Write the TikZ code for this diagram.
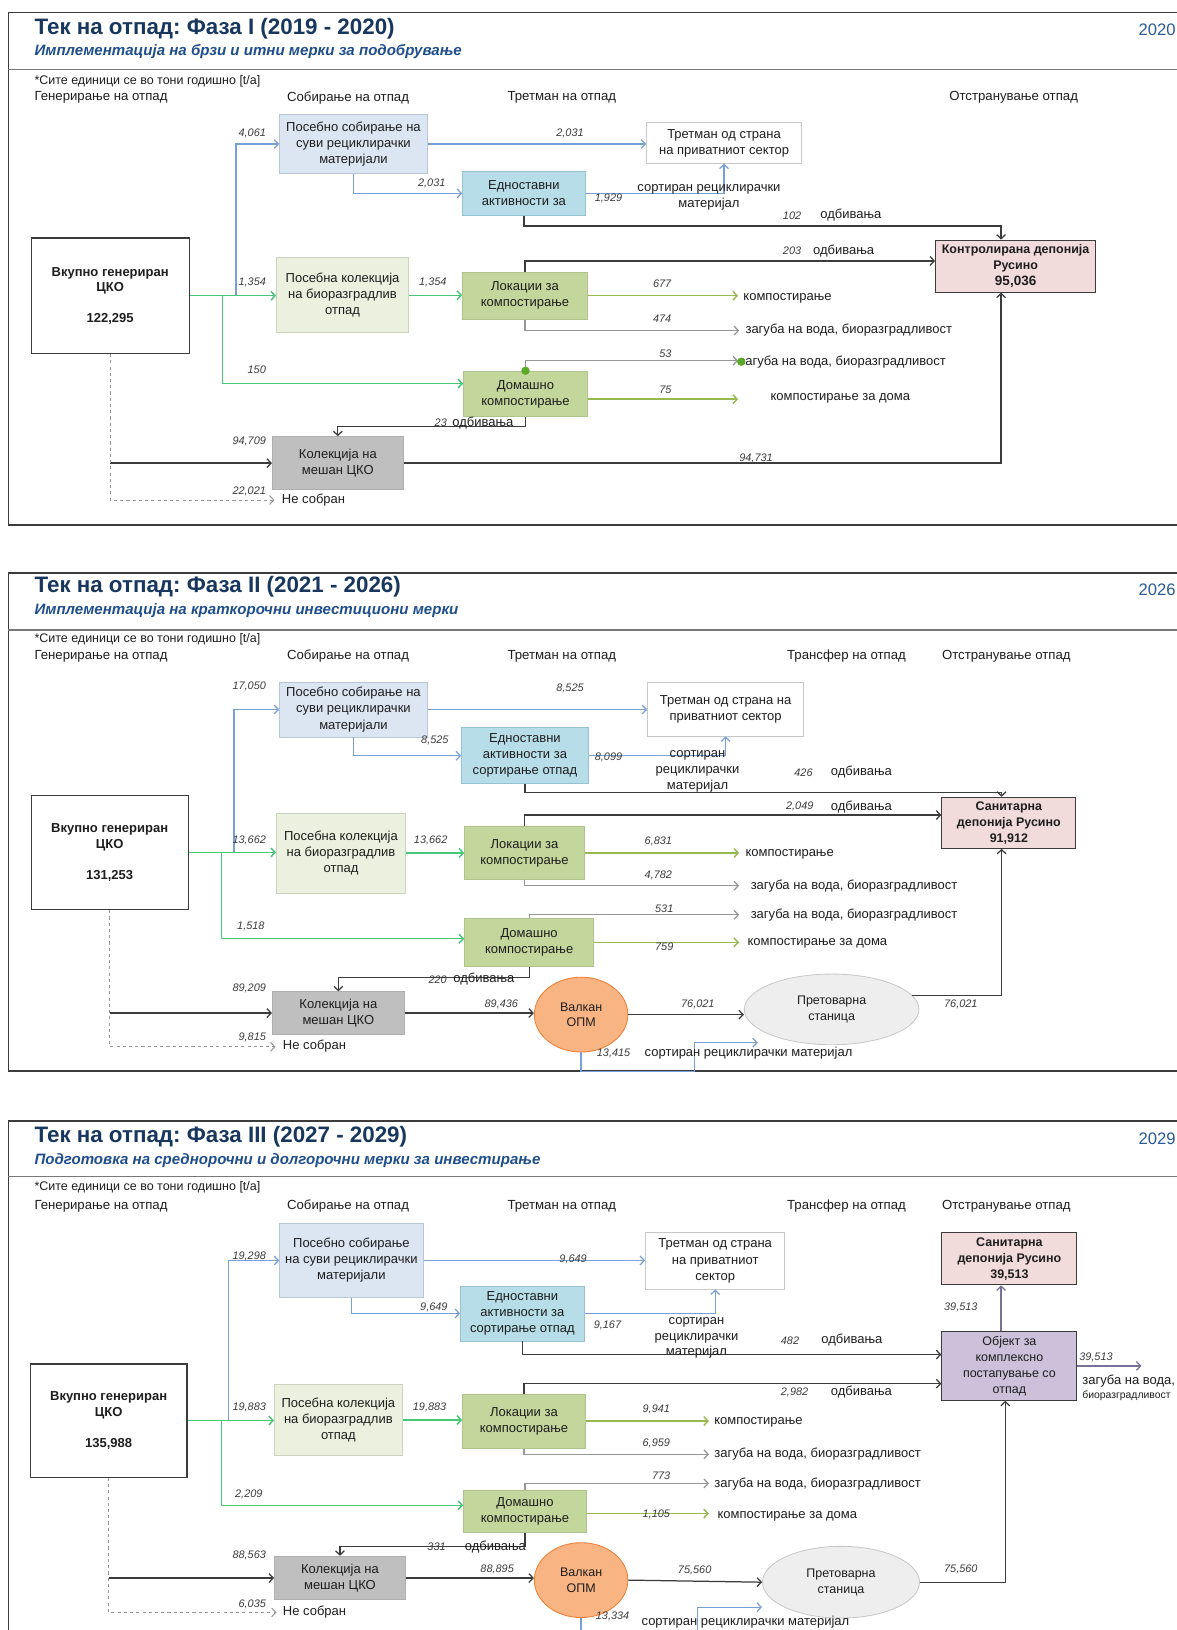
\documentclass[tikz,border=0pt]{standalone}
\usepackage{fontspec}
\setmainfont{Liberation Sans}
\usetikzlibrary{arrows.meta,shapes.geometric}
\newcommand\fsz[2]{\fontsize{#1}{#2}\selectfont}
\newcommand\bx[7]{\node[#2, minimum width={(#5)-(#3)}, minimum height={(#6)-(#4)}] (#1) at ({((#3)+(#5))/2},{((#4)+(#6))/2}) {#7};}
\definecolor{cttl}{RGB}{23,55,94}
\definecolor{csub}{RGB}{31,78,140}
\definecolor{cyr}{RGB}{40,90,150}
\definecolor{ctext}{RGB}{30,30,30}
\definecolor{cnum}{RGB}{60,60,60}
\definecolor{cblue}{RGB}{120,160,215}
\definecolor{cgreen}{RGB}{70,200,120}
\definecolor{colive}{RGB}{150,185,80}
\definecolor{cgrey}{RGB}{150,150,150}
\definecolor{cdark}{RGB}{60,60,60}
\definecolor{cprp}{RGB}{120,115,150}
\definecolor{csep}{RGB}{120,120,120}
\definecolor{fsd}{RGB}{220,230,242}\definecolor{dsd}{RGB}{185,198,215}
\definecolor{fss}{RGB}{183,222,232}\definecolor{dss}{RGB}{150,195,210}
\definecolor{fbc}{RGB}{235,241,222}\definecolor{dbc}{RGB}{205,212,190}
\definecolor{fcs}{RGB}{195,214,155}\definecolor{dcs}{RGB}{175,195,140}
\definecolor{fmx}{RGB}{191,191,191}\definecolor{dmx}{RGB}{175,175,175}
\definecolor{flf}{RGB}{242,220,219}
\definecolor{fob}{RGB}{204,192,218}
\definecolor{fva}{RGB}{248,180,130}\definecolor{dva}{RGB}{237,125,49}
\definecolor{fts}{RGB}{238,238,238}\definecolor{dts}{RGB}{200,200,200}
\definecolor{dpr}{RGB}{200,200,200}
\definecolor{cdot}{RGB}{90,170,40}
\tikzset{
  ar/.style={-{Straight Barb[length=4pt,width=8.5pt]}},
  blu/.style={ar, draw=cblue, line width=1.2pt},
  grn/.style={ar, draw=cgreen, line width=1.4pt},
  olv/.style={ar, draw=colive, line width=1.4pt},
  gry/.style={ar, draw=cgrey, line width=1.2pt},
  drk/.style={ar, draw=cdark, line width=1.2pt},
  prp/.style={ar, draw=cprp, line width=1.2pt},
  dsh/.style={ar, draw=cgrey, dashed, line width=1pt},
  frm/.style={draw=cdark, line width=1.8pt},
  lft/.style={draw=cdark, line width=1pt},
  sepl/.style={draw=csep, line width=1.2pt},
  ttl/.style={anchor=west, inner sep=0pt, font=\fsz{21.5}{25}\bfseries, text=cttl},
  sub/.style={anchor=west, inner sep=0pt, font=\fsz{14.5}{17}\bfseries\itshape, text=csub},
  yr/.style={anchor=east, inner sep=0pt, font=\fsz{16}{18}, text=cyr},
  note/.style={anchor=west, inner sep=0pt, font=\fsz{12}{14}, text=ctext},
  hdr/.style={anchor=west, inner sep=0pt, font=\fsz{12.7}{15}, text=ctext},
  lbl/.style={anchor=west, inner sep=0pt, font=\fsz{12.5}{15}, text=ctext},
  lblc/.style={align=center, inner sep=0pt, font=\fsz{12.5}{15}, text=ctext},
  small/.style={anchor=west, inner sep=0pt, font=\fsz{10}{12}, text=ctext},
  num/.style={anchor=west, inner sep=0pt, font=\fsz{10.5}{12}\itshape, text=cnum},
  numr/.style={num, anchor=east},
  bxs/.style={rectangle, align=center, inner sep=0pt, font=\fsz{12.5}{15.5}, text=ctext, line width=0.8pt},
  totb/.style={bxs, draw=cdark, fill=white, line width=1.2pt, font=\fsz{12.5}{15}\bfseries},
  sdb/.style={bxs, draw=dsd, fill=fsd},
  ssb/.style={bxs, draw=dss, fill=fss},
  prb/.style={bxs, draw=dpr, fill=white},
  bcb/.style={bxs, draw=dbc, fill=fbc},
  csb/.style={bxs, draw=dcs, fill=fcs},
  mxb/.style={bxs, draw=dmx, fill=fmx},
  lfb/.style={bxs, draw=cdark, fill=flf, line width=1pt, font=\fsz{12}{15.5}\bfseries},
  obb/.style={bxs, draw=cdark, fill=fob, line width=1pt, font=\fsz{12}{15.5}},
  vab/.style={ellipse, draw=dva, fill=fva, minimum width=90, minimum height=72, inner sep=0pt, align=center, font=\fsz{12}{15}, text=ctext, line width=0.8pt},
  tsb/.style={ellipse, draw=dts, fill=fts, minimum width=168, minimum height=68, inner sep=0pt, align=center, font=\fsz{12}{15}, text=ctext, line width=0.8pt},
  gdot/.style={circle, fill=cdot, inner sep=0pt, minimum size=8pt}
}
\begin{document}
\frenchspacing
\begin{tikzpicture}[x=1pt,y=-1pt]
\path[use as bounding box] (0,0) rectangle (1132,1568);
\clip (0,0) rectangle (1132,1568);
\fill[white] (0,0) rectangle (1132,1568);

%================ PANEL 1 ================
\draw[frm] (1132,12) -- (8,12);
\draw[frm] (8,505) -- (1132,505);
\draw[lft] (8,12) -- (8,505);
\draw[sepl] (8,67) -- (1132,67);
\node[ttl] (p1t) at (33,28) {Тек на отпад: Фаза I (2019 - 2020)};
\node[sub] (p1s) at (33,50) {Имплементација на брзи и итни мерки за подобрување};
\node[yr] (p1y) at (1131,29) {2020};
\node[note] (p1n) at (33,78) {*Сите единици се во тони годишно [t/a]};
\node[hdr] (p1h1) at (33,94) {Генерирање на отпад};
\node[hdr] (p1h2) at (276,94) {Собирање на отпад};
\node[hdr] (p1h3) at (488,94) {Третман на отпад};
\node[hdr] (p1h5) at (913,94) {Отстранување отпад};

\bx{tot1}{totb}{30}{229}{182}{340}{Вкупно генериран\\ЦКО\\[14.5pt]122,295}
\bx{sd1}{sdb}{269}{110}{411}{167}{Посебно собирање на\\суви рециклирачки\\материјали}
\bx{ss1}{ssb}{445}{165}{563}{207}{Едноставни\\активности за}
\bx{pr1}{prb}{622}{118}{771}{157}{Третман од страна\\на приватниот сектор}
\bx{bc1}{bcb}{266}{248}{393}{320}{Посебна колекција\\на биоразградлив\\отпад}
\bx{cs1}{csb}{445}{262}{565}{307}{Локации за\\компостирање}
\bx{hc1}{csb}{446}{357}{565}{401}{Домашно\\компостирање}
\bx{mx1}{mxb}{262}{420}{388}{471}{Колекција на\\мешан ЦКО}
\bx{lf1}{lfb}{900}{231}{1054}{281}{Контролирана депонија\\Русино\\{\fsz{13}{15}95,036}}

\coordinate (j1b) at (227,285);
\coordinate (j1g) at (214,285);
\draw[blu] (j1b) |- (sd1.west);
\draw[grn] (tot1.east) -- (tot1.east -| bc1.west);
\draw[grn] (j1g) |- ([yshift=10pt]hc1.west);
\draw[blu] (sd1.east) -- (sd1.east -| pr1.west);
\draw[blu] (sd1.south) |- (ss1.west);
\draw[blu] (ss1.east) -| (pr1.south);
\draw[drk] (ss1.south) -- ++(0,10) -| ([xshift=-14pt]lf1.north);
\draw[drk] (cs1.north) |- ([yshift=5pt]lf1.west);
\draw[grn] (bc1.east) -- (bc1.east -| cs1.west);
\coordinate (e1a) at (710,286);
\draw[olv] (cs1.east) -- (cs1.east -| e1a);
\coordinate (e1b) at (711,318);
\draw[gry] (cs1.south) |- (e1b);
\coordinate (e1c) at (710,347);
\draw[gry] (hc1.north) |- (e1c);
\coordinate (e1d) at (710,384);
\draw[olv] ([yshift=-5pt]hc1.east) -- (e1d);
\draw[drk] (hc1.south) -- ++(0,9) -| (mx1.north);
\draw[drk] (tot1.south |- mx1.west) -- (mx1.west);
\coordinate (e1nc) at (264,481);
\draw[dsh] (tot1.south) |- (e1nc);
\draw[drk] (mx1.east) -| ([xshift=-14pt]lf1.south);

\node[numr] (n1a) at (256,128) {4,061};
\node[numr] (n1b) at (256,272) {1,354};
\node[num] (n1c) at (238,356) {150};
\node[num] (n1d) at (535,128) {2,031};
\node[num] (n1e) at (402,176) {2,031};
\node[num] (n1f) at (572,191) {1,929};
\node[lblc] (t1s) at (682,190) {сортиран рециклирачки\\материјал};
\node[num] (n1g) at (753,208) {102};
\node[lbl] (t1r1) at (789,207) {одбивања};
\node[num] (n1h) at (753,241) {203};
\node[lbl] (t1r2) at (782,241) {одбивања};
\node[num] (n1i) at (403,272) {1,354};
\node[num] (n1j) at (628,273) {677};
\node[lbl] (t1k) at (715,287) {компостирање};
\node[num] (n1k) at (628,307) {474};
\node[lbl] (t1l) at (717,318) {загуба на вода, биоразградливост};
\node[num] (n1l) at (634,340) {53};
\node[lbl] (t1m) at (711,348) {загуба на вода, биоразградливост};
\node[num] (n1m) at (634,375) {75};
\node[lbl] (t1n) at (741,383) {компостирање за дома};
\node[num] (n1n) at (418,407) {23};
\node[lbl] (t1o) at (435,407) {одбивања};
\node[numr] (n1o) at (256,425) {94,709};
\node[numr] (n1p) at (256,473) {22,021};
\node[lbl] (t1p) at (271,481) {Не собран};
\node[num] (n1q) at (711,441) {94,731};
\node[gdot] (g1a) at (hc1.north) {};
\node[gdot] (g1b) at (713,348) {};

%================ PANEL 2 ================
\draw[frm] (1132,551) -- (8,551);
\draw[frm] (8,1030) -- (1132,1030);
\draw[lft] (8,551) -- (8,1030);
\draw[sepl] (8,606) -- (1132,606);
\node[ttl] (p2t) at (33,564) {Тек на отпад: Фаза II (2021 - 2026)};
\node[sub] (p2s) at (33,587) {Имплементација на краткорочни инвестициони мерки};
\node[yr] (p2y) at (1131,567) {2026};
\node[note] (p2n) at (33,615) {*Сите единици се во тони годишно [t/a]};
\node[hdr] (p2h1) at (33,631) {Генерирање на отпад};
\node[hdr] (p2h2) at (276,631) {Собирање на отпад};
\node[hdr] (p2h3) at (488,631) {Третман на отпад};
\node[hdr] (p2h4) at (757,631) {Трансфер на отпад};
\node[hdr] (p2h5) at (906,631) {Отстранување отпад};

\bx{tot2}{totb}{30}{765}{181}{875}{Вкупно генериран\\ЦКО\\[14.5pt]131,253}
\bx{sd2}{sdb}{269}{656}{411}{709}{Посебно собирање на\\суви рециклирачки\\материјали}
\bx{ss2}{ssb}{444}{700}{566}{754}{Едноставни\\активности за\\сортирање отпад}
\bx{pr2}{prb}{623}{656}{773}{708}{Третман од страна на\\приватниот сектор}
\bx{bc2}{bcb}{266}{782}{390}{859}{Посебна колекција\\на биоразградлив\\отпад}
\bx{cs2}{csb}{447}{795}{562}{846}{Локации за\\компостирање}
\bx{hc2}{csb}{447}{883}{571}{930}{Домашно\\компостирање}
\bx{mx2}{mxb}{262}{954}{389}{995}{Колекција на\\мешан ЦКО}
\node[vab] (va2) at (559,976) {Валкан\\ОПМ};
\node[tsb] (ts2) at (800,971) {Претоварна\\станица};
\bx{lf2}{lfb}{906}{767}{1035}{816}{Санитарна\\депонија Русино\\91,912}

\coordinate (j2b) at (225,820);
\coordinate (j2g) at (213,820);
\draw[blu] (j2b) |- (sd2.west);
\draw[grn] (tot2.east) -- (tot2.east -| bc2.west);
\draw[grn] (j2g) |- ([yshift=3.5pt]hc2.west);
\draw[blu] (sd2.east) -- (sd2.east -| pr2.west);
\draw[blu] (sd2.south) |- (ss2.west);
\draw[blu] (ss2.east) -| (pr2.south);
\draw[drk] (ss2.south) -- ++(0,8) -| ([xshift=-7pt]lf2.north);
\draw[drk] (cs2.north) |- ([yshift=7.5pt]lf2.west);
\draw[grn] (bc2.east) -- (bc2.east -| cs2.west);
\coordinate (e2a) at (711,821);
\draw[olv] (cs2.east) -- (cs2.east -| e2a);
\coordinate (e2b) at (711,852);
\draw[gry] (cs2.south) |- (e2b);
\coordinate (e2c) at (711,880);
\draw[gry] (hc2.north) |- (e2c);
\coordinate (e2d) at (711,906);
\draw[olv] (hc2.east) -- (hc2.east -| e2d);
\draw[drk] (hc2.south) -- ++(0,10) -| (mx2.north);
\draw[drk] (tot2.south |- mx2.west) -- (mx2.west);
\coordinate (e2nc) at (265,1007);
\draw[dsh] (tot2.south) |- (e2nc);
\draw[drk] (mx2.east) -- (mx2.east -| va2.west);
\draw[drk] (va2.east) -- (va2.east -| ts2.west);
\draw[drk] (ts2.10) -| ([xshift=-7pt]lf2.south);
\coordinate (e2s) at (729,1003);
\draw[blu] (va2.south) |- (668,1031) |- (e2s);

\node[numr] (n2a) at (256,660) {17,050};
\node[numr] (n2b) at (256,808) {13,662};
\node[num] (n2c) at (228,891) {1,518};
\node[num] (n2d) at (535,662) {8,525};
\node[num] (n2e) at (405,712) {8,525};
\node[num] (n2f) at (572,729) {8,099};
\node[lblc] (t2s) at (671,742) {сортиран\\рециклирачки\\материјал};
\node[num] (n2g) at (764,743) {426};
\node[lbl] (t2r1) at (799,743) {одбивања};
\node[num] (n2h) at (756,776) {2,049};
\node[lbl] (t2r2) at (799,776) {одбивања};
\node[num] (n2i) at (398,808) {13,662};
\node[num] (n2j) at (620,809) {6,831};
\node[lbl] (t2k) at (717,822) {компостирање};
\node[num] (n2k) at (620,842) {4,782};
\node[lbl] (t2l) at (722,852) {загуба на вода, биоразградливост};
\node[num] (n2l) at (630,874) {531};
\node[lbl] (t2m) at (722,880) {загуба на вода, биоразградливост};
\node[num] (n2m) at (630,911) {759};
\node[lbl] (t2n) at (719,907) {компостирање за дома};
\node[num] (n2n) at (412,942) {220};
\node[lbl] (t2o) at (436,942) {одбивања};
\node[numr] (n2o) at (256,951) {89,209};
\node[numr] (n2p) at (256,998) {9,815};
\node[lbl] (t2p) at (272,1006) {Не собран};
\node[num] (n2q) at (466,966) {89,436};
\node[num] (n2r) at (655,966) {76,021};
\node[num] (n2s) at (908,966) {76,021};
\node[num] (n2t) at (574,1013) {13,415};
\node[lbl] (t2q) at (620,1013) {сортиран рециклирачки материјал};

%================ PANEL 3 ================
\draw[frm] (1132,1078) -- (8,1078);
\draw[lft] (8,1078) -- (8,1570);
\draw[sepl] (8,1132) -- (1132,1132);
\node[ttl] (p3t) at (33,1093) {Тек на отпад: Фаза III (2027 - 2029)};
\node[sub] (p3s) at (33,1116) {Подготовка на среднорочни и долгорочни мерки за инвестирање};
\node[yr] (p3y) at (1131,1095) {2029};
\node[note] (p3n) at (33,1142) {*Сите единици се во тони годишно [t/a]};
\node[hdr] (p3h1) at (33,1160) {Генерирање на отпад};
\node[hdr] (p3h2) at (276,1160) {Собирање на отпад};
\node[hdr] (p3h3) at (488,1160) {Третман на отпад};
\node[hdr] (p3h4) at (757,1160) {Трансфер на отпад};
\node[hdr] (p3h5) at (906,1160) {Отстранување отпад};

\bx{tot3}{totb}{29}{1312}{180}{1421}{Вкупно генериран\\ЦКО\\[14.5pt]135,988}
\bx{sd3}{sdb}{269}{1177}{407}{1248}{Посебно собирање\\на суви рециклирачки\\материјали}
\bx{ss3}{ssb}{443}{1237}{562}{1290}{Едноставни\\активности за\\сортирање отпад}
\bx{pr3}{prb}{621}{1186}{755}{1240}{Третман од страна\\на приватниот\\сектор}
\bx{bc3}{bcb}{264}{1332}{387}{1400}{Посебна колекција\\на биоразградлив\\отпад}
\bx{cs3}{csb}{445}{1341}{563}{1393}{Локации за\\компостирање}
\bx{hc3}{csb}{446}{1434}{564}{1474}{Домашно\\компостирање}
\bx{mx3}{mxb}{264}{1497}{390}{1539}{Колекција на\\мешан ЦКО}
\node[vab] (va3) at (559,1520) {Валкан\\ОПМ};
\node[tsb, minimum width=151, minimum height=69] (ts3) at (809,1522) {Претоварна\\станица};
\bx{lf3}{lfb}{906}{1186}{1036}{1236}{Санитарна\\депонија Русино\\39,513}
\bx{ob3}{obb}{906}{1281}{1036}{1347}{Објект за\\комплексно\\постапување со\\отпад}

\coordinate (j3b) at (220,1366);
\coordinate (j3g) at (213,1366);
\draw[blu] (j3b) |- (sd3.west);
\draw[grn] (tot3.east) -- (tot3.east -| bc3.west);
\draw[grn] (j3g) |- ([yshift=6pt]hc3.west);
\draw[blu] (sd3.east) -- (sd3.east -| pr3.west);
\draw[blu] (sd3.south) |- (ss3.west);
\draw[blu] (ss3.east) -| (pr3.south);
\draw[drk] (ss3.south) |- ([yshift=11pt]ob3.west);
\draw[drk] (cs3.north) |- ([yshift=-17pt]ob3.west);
\draw[grn] (bc3.east) -- (bc3.east -| cs3.west);
\coordinate (e3a) at (682,1368);
\draw[olv] (cs3.east) -- (cs3.east -| e3a);
\coordinate (e3b) at (682,1399);
\draw[gry] (cs3.south) |- (e3b);
\coordinate (e3c) at (682,1427);
\draw[gry] (hc3.north) |- (e3c);
\coordinate (e3d) at (682,1456);
\draw[olv] ([yshift=-2pt]hc3.east) -- (e3d);
\draw[drk] (hc3.south) -- ++(0,13) -| (mx3.north);
\draw[drk] (tot3.south |- mx3.west) -- (mx3.west);
\coordinate (e3nc) at (266,1551);
\draw[dsh] (tot3.south) |- (e3nc);
\draw[drk] (mx3.east) -- (mx3.east -| va3.west);
\draw[drk] (va3.east) -- (ts3.west);
\draw[drk] (ts3.east) -| ([xshift=-4pt]ob3.south);
\draw[prp] ([xshift=-8pt]ob3.north) -- ([xshift=-8pt]lf3.south);
\coordinate (e3o) at (1098,1314);
\draw[prp] (ob3.east) -- (e3o);
\coordinate (e3s) at (733,1546);
\draw[blu] (va3.south) |- (671,1580) |- (e3s);

\node[numr] (n3a) at (256,1209) {19,298};
\node[numr] (n3b) at (256,1354) {19,883};
\node[num] (n3c) at (226,1438) {2,209};
\node[num] (n3d) at (538,1211) {9,649};
\node[num] (n3e) at (404,1258) {9,649};
\node[num] (n3f) at (571,1275) {9,167};
\node[lblc] (t3s) at (670,1287) {сортиран\\рециклирачки\\материјал};
\node[num] (n3g) at (751,1290) {482};
\node[lbl] (t3r1) at (790,1289) {одбивања};
\node[num] (n3h) at (751,1339) {2,982};
\node[lbl] (t3r2) at (799,1339) {одбивања};
\node[num] (n3i) at (397,1354) {19,883};
\node[num] (n3j) at (618,1356) {9,941};
\node[lbl] (t3k) at (687,1368) {компостирање};
\node[num] (n3k) at (618,1388) {6,959};
\node[lbl] (t3l) at (687,1399) {загуба на вода, биоразградливост};
\node[num] (n3l) at (627,1420) {773};
\node[lbl] (t3m) at (687,1428) {загуба на вода, биоразградливост};
\node[num] (n3m) at (618,1457) {1,105};
\node[lbl] (t3n) at (690,1459) {компостирање за дома};
\node[num] (n3n) at (411,1488) {331};
\node[lbl] (t3o) at (447,1488) {одбивања};
\node[numr] (n3o) at (256,1496) {88,563};
\node[numr] (n3p) at (256,1543) {6,035};
\node[lbl] (t3p) at (272,1551) {Не собран};
\node[num] (n3q) at (462,1510) {88,895};
\node[num] (n3r) at (652,1511) {75,560};
\node[num] (n3s) at (908,1510) {75,560};
\node[num] (n3t) at (908,1258) {39,513};
\node[num] (n3u) at (1038,1306) {39,513};
\node[lbl] (t3u) at (1041,1329) {загуба на вода,};
\node[small] (t3v) at (1041,1343) {биоразградливост};
\node[num] (n3v) at (573,1555) {13,334};
\node[lbl] (t3q) at (617,1560) {сортиран рециклирачки материјал};
\end{tikzpicture}
\end{document}
